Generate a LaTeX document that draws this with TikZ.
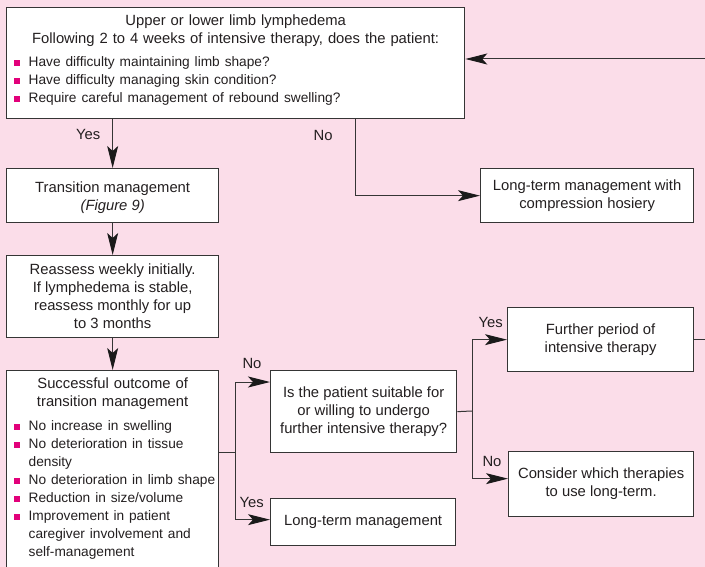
\documentclass[tikz,border=0pt]{standalone}
\usepackage{fontspec}
\setmainfont{Liberation Sans}
\usepackage{xcolor}
\usepackage{tikz}
\usetikzlibrary{arrows.meta,positioning,calc}
\definecolor{lpink}{HTML}{FBDDE9}
\definecolor{lline}{HTML}{353535}
\definecolor{lmag}{HTML}{E2007A}
\definecolor{ltext}{HTML}{231F20}
\definecolor{ltip}{HTML}{1A1A1A}

\newcommand{\bsq}{\textcolor{lmag}{\rule[0.3bp]{6.3bp}{6.3bp}}}
\newcommand{\bitem}[1]{\makebox[\linewidth][l]{\fontsize{13.7bp}{18bp}\selectfont\hspace{1.5bp}\bsq\hspace{8.2bp}#1}}
\newcommand{\bcont}[1]{\makebox[\linewidth][l]{\fontsize{13.7bp}{18bp}\selectfont\hspace{16bp}#1}}
\newcommand{\dn}[1]{\rule[-#1]{0pt}{#1}}
\newcommand{\up}[1]{\rule{0pt}{#1}}

\begin{document}
\begin{tikzpicture}[x=1bp,y=-1bp,
  every node/.style={font=\fontsize{14.8bp}{18bp}\selectfont,text=ltext},
  flowbox/.style={draw=lline,line width=1.3bp,fill=white,anchor=north west,align=center,inner sep=0pt},
  conn/.style={draw=lline,line width=1bp},
  arr/.style={conn,-{Stealth[length=22bp,width=11bp,inset=5bp,color=ltip]}},
  lbl/.style={inner sep=0pt,anchor=south west}]
  \useasboundingbox (0,0) rectangle (705,567);
  \fill[lpink] (0,0) rectangle (705,567);

  \node[flowbox,minimum width=458bp,minimum height=111bp,text width=446bp] (assess) at (6,7)
    {Upper or lower limb lymphedema\\
     Following 2 to 4 weeks of intensive therapy, does the patient:\\[5bp]
     \bitem{Have difficulty maintaining limb shape?}\\
     \bitem{Have difficulty managing skin condition?}\\
     \bitem{Require careful management of rebound swelling?}\dn{8.6bp}};
  \node[flowbox,minimum width=212bp,minimum height=54bp] (trans) at (6,168)
    {\up{14.5bp}Transition management\\\textit{(Figure 9)}};
  \node[flowbox,minimum width=213bp,minimum height=54bp] (hosiery) at (480,168)
    {Long-term management with\\compression hosiery};
  \node[flowbox,minimum width=212bp,minimum height=82bp] (reass) at (6,255)
    {Reassess weekly initially.\\If lymphedema is stable,\\reassess monthly for up\\to 3 months};
  \node[flowbox,minimum width=212bp,text width=200bp,inner ysep=7.4bp] (success) at (6,370)
    {Successful outcome of\\transition management\\[6bp]
     \bitem{No increase in swelling}\\
     \bitem{No deterioration in tissue}\\
     \bcont{density}\\
     \bitem{No deterioration in limb shape}\\
     \bitem{Reduction in size/volume}\\
     \bitem{Improvement in patient}\\
     \bcont{caregiver involvement and}\\
     \bcont{self-management}\dn{20bp}};
  \node[flowbox,minimum width=186bp,minimum height=82bp] (suitable) at (270,370)
    {Is the patient suitable for\\or willing to undergo\\further intensive therapy?};
  \node[flowbox,minimum width=185bp,minimum height=47bp] (ltm) at (270,498)
    {Long-term management};
  \node[flowbox,minimum width=186bp,minimum height=64bp] (further) at (507,307)
    {Further period of\\intensive therapy};
  \node[flowbox,minimum width=185bp,minimum height=65bp] (consider) at (508,451)
    {Consider which therapies\\to use long-term.};

  \coordinate (nodrop) at ($(assess.south west)+(349,0)$);
  \coordinate (okfork) at (235,452);
  \coordinate (qfork) at (472,411);
  \coordinate (loopback) at (707,59);

  \draw[arr] (assess.south -| trans.north) -- node[inner sep=0pt,left=12bp,pos=0.32] {Yes} (trans.north);
  \draw[arr] (nodrop) |- node[inner sep=0pt,left=22bp,pos=0.105] {No} (hosiery.west);
  \draw[arr] (trans) -- (reass);
  \draw[arr] (reass) -- (success);

  \draw[conn] (success.east |- okfork) -- (okfork);
  \draw[arr] (okfork) |- node[lbl,pos=0.5,xshift=7bp,yshift=13bp] {No} ([yshift=-12bp]suitable.north west);
  \draw[arr] (okfork) |- node[lbl,pos=0.5,xshift=4bp,yshift=12bp] {Yes} ([yshift=2.5bp]ltm.west);

  \draw[conn] (suitable.east) -- (qfork);
  \draw[arr] (qfork) |- node[lbl,pos=0.5,xshift=6bp,yshift=12bp] {Yes} (further.west);
  \draw[arr] (qfork) |- node[lbl,pos=0.5,xshift=10bp,yshift=12bp] {No} ([yshift=5.5bp]consider.west);

  \draw[arr] (further.east) -| (loopback) -- (assess.east |- loopback);
\end{tikzpicture}
\end{document}
